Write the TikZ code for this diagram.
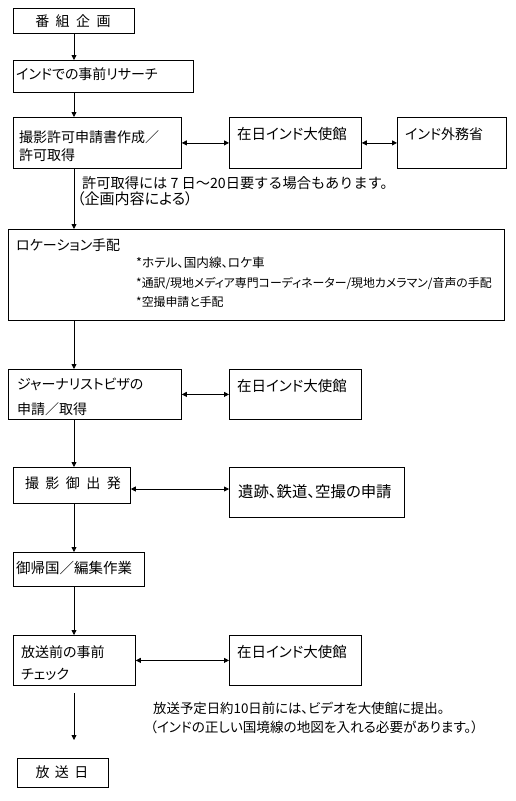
\documentclass[tikz,border=0pt]{standalone}
\usepackage{fontspec}
\setmainfont{Noto Sans CJK JP}[RawFeature=+palt]
\newfontfamily\jpfull{Noto Sans CJK JP}
\usetikzlibrary{arrows.meta}
\tikzset{
  boxnode/.style={draw, line width=0.8pt, inner sep=0pt, anchor=north west},
  txt/.style={inner sep=0pt, anchor=west, align=left, font=\fontsize{14}{18}\selectfont},
  ctxt/.style={inner sep=0pt, anchor=center, font=\fontsize{14}{18}\selectfont},
  small/.style={inner sep=0pt, anchor=west, font=\fontsize{11.9}{16}\selectfont},
  conn/.style={line width=0.8pt, -{Triangle[length=5pt,width=5pt]}},
  dconn/.style={line width=0.8pt, {Triangle[length=5pt,width=5pt]}-{Triangle[length=5pt,width=5pt]}}
}
\newcommand{\mkbox}[5]{\node[boxnode, minimum width={#4-#2}, minimum height={#5-#3}] (#1) at (#2,#3) {};}
\begin{document}
\begin{tikzpicture}[x=1pt,y=-1pt]
\useasboundingbox (0,0) rectangle (515,801);
% boxes
\mkbox{b1}{13}{8}{134}{33}
\mkbox{b2}{13}{60}{193}{92}
\mkbox{b3}{13}{117}{181}{168}
\mkbox{b4}{229}{117}{361}{168}
\mkbox{b5}{397}{117}{506}{168}
\mkbox{b6}{8}{229}{504}{320}
\mkbox{b7}{8}{369}{181}{419}
\mkbox{b8}{229}{369}{361}{419}
\mkbox{b9}{13}{467}{130}{503}
\mkbox{b10}{229}{467}{404}{517}
\mkbox{b11}{13}{552}{144}{586}
\mkbox{b12}{13}{635}{135}{685}
\mkbox{b13}{229}{635}{361}{685}
\mkbox{b14}{17}{758}{108}{787}
% texts
\node[ctxt] (t1) at (73,21) {番\hspace{6.5pt}組\hspace{6.5pt}企\hspace{6.5pt}画};
\node[txt] (t2) at (16,74) {インドでの事前リサーチ};
\node[txt] (t3) at (19,146) {撮影許可申請書作成／\\許可取得};
\node[txt, font=\fontsize{14.5}{18}\selectfont] (t4) at (237,134) {在日インド大使館};
\node[txt] (t5) at (405,134) {インド外務省};
\node[txt, font=\fontsize{14.2}{18}\jpfull] (n1a) at (82,183) {許可取得には 7 日〜20日要する場合もあります。};
\node[txt, font=\fontsize{15}{18}\selectfont] (n1b) at (77,199) {（企画内容による）};
\node[txt] (t6) at (16,245) {ロケーション手配};
\node[small, font=\fontsize{12.6}{16}\selectfont] (t6a) at (136,263) {*ホテル、国内線、ロケ車};
\node[small] (t6b) at (136,283) {*通訳/現地メディア専門コーディネーター/現地カメラマン/音声の手配};
\node[small] (t6c) at (136,302) {*空撮申請と手配};
\node[txt, font=\fontsize{14}{25}\selectfont] (t7) at (17,397) {ジャーナリストビザの\\申請／取得};
\node[txt, font=\fontsize{14.5}{18}\selectfont] (t8) at (237,386) {在日インド大使館};
\node[ctxt] (t9) at (73,483) {撮\hspace{6.5pt}影\hspace{6.5pt}御\hspace{6.5pt}出\hspace{6.5pt}発};
\node[txt, font=\fontsize{15.4}{18}\selectfont] (t10) at (238,492) {遺跡、鉄道、空撮の申請};
\node[txt, font=\fontsize{14.5}{18}\selectfont] (t11) at (16,568) {御帰国／編集作業};
\node[txt, font=\fontsize{14}{22}\selectfont] (t12) at (21,663) {放送前の事前\\チェック};
\node[txt, font=\fontsize{14.5}{18}\selectfont] (t13) at (237,652) {在日インド大使館};
\node[txt, font=\fontsize{13.4}{18}\selectfont] (n2a) at (153,708) {放送予定日約10日前には、ビデオを大使館に提出。};
\node[txt, font=\fontsize{13.6}{18}\selectfont] (n2b) at (150,727) {（インドの正しい国境線の地図を入れる必要があります。）};
\node[ctxt] (t14) at (62,772) {放\hspace{5.5pt}送\hspace{5.5pt}日};
% connector helpers
\coordinate (ax) at (74,0);
\coordinate (y9) at (0,489);
\coordinate (s12) at (74,693);
\coordinate (e12) at (74,740);
% vertical connectors
\draw[conn] (b1.south -| ax) -- (b2.north -| ax);
\draw[conn] (b2.south -| ax) -- (b3.north -| ax);
\draw[conn] (b3.south -| ax) -- (b6.north -| ax);
\draw[conn] (b6.south -| ax) -- (b7.north -| ax);
\draw[conn] (b7.south -| ax) -- (b9.north -| ax);
\draw[conn] (b9.south -| ax) -- (b11.north -| ax);
\draw[conn] (b11.south -| ax) -- (b12.north -| ax);
\draw[conn] (s12) -- (e12);
% horizontal double connectors
\draw[dconn] (b3.east) -- (b4.west);
\draw[dconn] (b4.east) -- (b5.west);
\draw[dconn] (b7.east) -- (b8.west);
\draw[dconn] (b9.east |- y9) -- (b10.west |- y9);
\draw[dconn] (b12.east) -- (b13.west);
\end{tikzpicture}
\end{document}
